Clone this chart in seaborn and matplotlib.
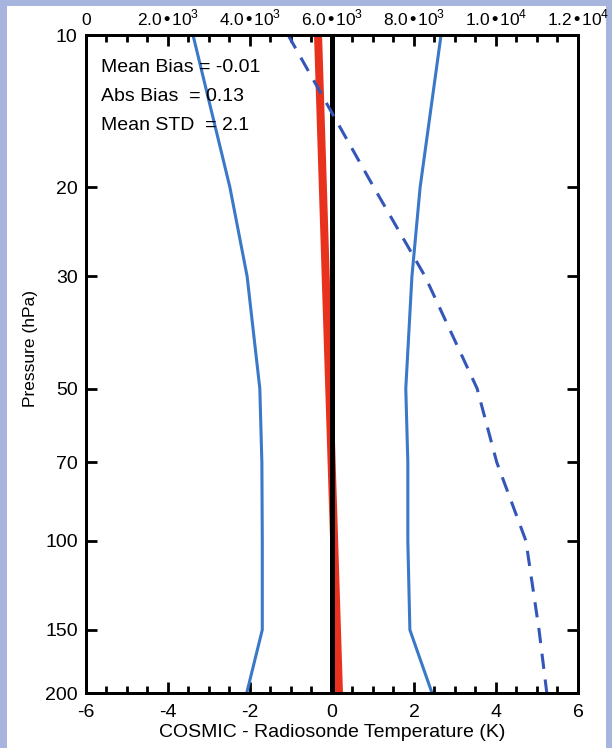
import numpy as np
import pandas as pd
import seaborn as sns
import matplotlib
matplotlib.use("Agg")
import matplotlib.pyplot as plt
from matplotlib.ticker import MultipleLocator, FixedLocator, FuncFormatter, NullLocator
from matplotlib.patches import Rectangle

# pressure levels (hPa)
pressure = [10, 20, 30, 50, 70, 100, 150, 200]

# mean bias +/- std (K)
std_left = [-3.39, -2.49, -2.07, -1.76, -1.71, -1.70, -1.70, -2.08]
std_right = [2.66, 2.15, 1.95, 1.80, 1.85, 1.85, 1.90, 2.44]

# mean bias line (K), top and bottom
bias_p = [10, 200]
bias_t = [-0.34, 0.17]

# number of samples (top axis)
count = [4930, 7020, 8270, 9540, 10020, 10730, 11050, 11240]

ytick_vals = [10, 20, 30, 50, 70, 100, 150, 200]
stats_text = ["Mean Bias = -0.01", "Abs Bias  = 0.13", "Mean STD  = 2.1"]

sns.set_style("ticks", {"axes.edgecolor": "black", "text.color": "black",
                        "xtick.color": "black", "ytick.color": "black",
                        "axes.labelcolor": "black"})
plt.rcParams['font.family'] = ['Liberation Sans', 'DejaVu Sans']
plt.rcParams['axes.unicode_minus'] = False

blue = "#3a78c8"
dblue = "#3356b8"
red = "#e8321e"

fig = plt.figure(figsize=(6.12, 7.48), dpi=100, facecolor="#a6b4de")
fig.patches.append(Rectangle((7 / 612, 0), 599 / 612, 742 / 748, transform=fig.transFigure,
                             facecolor="white", edgecolor="none", zorder=-5))
ax = fig.add_axes([0.1405, 0.0735, 0.8039, 0.8797])

df = pd.DataFrame({"p": pressure, "lo": std_left, "hi": std_right, "n": count})

ax.set_yscale("log")
ax.axvline(0, color="black", lw=3.6, zorder=3)
sns.lineplot(x=bias_t, y=bias_p, ax=ax, color=red, lw=5.8, sort=False, estimator=None, zorder=2)
sns.lineplot(data=df, x="lo", y="p", ax=ax, color=blue, lw=2.2, sort=False, estimator=None)
sns.lineplot(data=df, x="hi", y="p", ax=ax, color=blue, lw=2.2, sort=False, estimator=None)

ax.set_xlim(-6, 6)
ax.set_ylim(200, 10)
ax.yaxis.set_major_locator(FixedLocator(ytick_vals))
ax.yaxis.set_major_formatter(FuncFormatter(lambda v, pos: f"{v:g}"))
ax.yaxis.set_minor_locator(NullLocator())
ax.xaxis.set_major_locator(MultipleLocator(2))
ax.xaxis.set_minor_locator(MultipleLocator(0.5))
ax.xaxis.set_major_formatter(FuncFormatter(lambda v, pos: f"{v:g}"))
ax.tick_params(which="major", direction="in", length=8, width=2, labelsize=14, pad=6,
               right=True, top=False, colors="black")
ax.tick_params(which="minor", direction="in", length=5, width=2, top=False, colors="black")
ax.tick_params(axis="x", pad=8)
ax.set_xlabel("COSMIC - Radiosonde Temperature (K)", fontsize=14, labelpad=2)
ax.set_ylabel("Pressure (hPa)", fontsize=12.5)
ax.yaxis.set_label_coords(-0.097, 0.524)
for s in ax.spines.values():
    s.set_linewidth(2)
    s.set_color("black")
    s.set_visible(True)

for i, t in enumerate(stats_text):
    ax.text(0.030, 0.951 - i * 0.044, t, transform=ax.transAxes, fontsize=14, va="center", ha="left")


# top axis: sample count
def count_fmt(v, pos):
    if v <= 0:
        return "0"
    e = int(np.floor(np.log10(v)))
    return f"{v / 10 ** e:.1f}\u202210" + "$^{\\mathregular{" + str(e) + "}}$"


ax2 = ax.twiny()
sns.lineplot(data=df, x="n", y="p", ax=ax2, color=dblue, lw=2.2, sort=False, estimator=None)
ax2.lines[-1].set_dashes([5, 3.5])
ax2.set_xlim(0, 12000)
ax2.set_ylim(200, 10)
ax2.set_xlabel("")
ax2.set_ylabel("")
ax2.xaxis.set_major_locator(MultipleLocator(2000))
ax2.xaxis.set_minor_locator(MultipleLocator(500))
ax2.xaxis.set_major_formatter(FuncFormatter(count_fmt))
ax2.tick_params(axis="x", which="major", direction="in", length=8, width=2, labelsize=12.5, pad=5,
                colors="black")
ax2.tick_params(axis="x", which="minor", direction="in", length=5, width=2, colors="black")
for s in ax2.spines.values():
    s.set_linewidth(2)
    s.set_color("black")

fig.savefig("out.png", dpi=100, facecolor=fig.get_facecolor())
